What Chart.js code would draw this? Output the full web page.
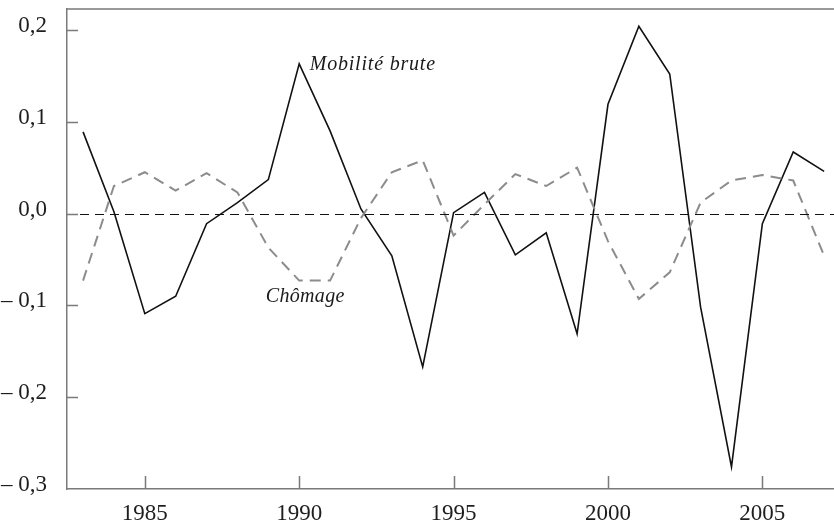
<!DOCTYPE html>
<html>
<head>
<meta charset="utf-8">
<script src="https://cdn.jsdelivr.net/npm/chart.js@4.4.1/dist/chart.umd.min.js"></script>
<style>
  html, body { margin: 0; padding: 0; background: #fff; }
  #wrap { width: 834px; height: 523px; }
</style>
</head>
<body>
<div id="wrap"><canvas id="chart"></canvas></div>
<script>
const years = [1983, 1984, 1985, 1986, 1987, 1988, 1989, 1990, 1991, 1992, 1993, 1994, 1995,
               1996, 1997, 1998, 1999, 2000, 2001, 2002, 2003, 2004, 2005, 2006, 2007];
const mobilite = [0.089, 0.002, -0.109, -0.090, -0.011, 0.012, 0.037, 0.163, 0.090, 0.005, -0.046, -0.167, 0.001,
                  0.023, -0.045, -0.021, -0.131, 0.119, 0.204, 0.152, -0.102, -0.276, -0.011, 0.067, 0.046];
const chomage = [-0.073, 0.030, 0.045, 0.025, 0.044, 0.023, -0.037, -0.073, -0.073, -0.005, 0.045, 0.058, -0.024,
                 0.010, 0.043, 0.030, 0.050, -0.030, -0.093, -0.064, 0.012, 0.036, 0.042, 0.036, -0.046];
const xTicks = [1985, 1990, 1995, 2000, 2005];
const yTicks = [-0.3, -0.2, -0.1, 0.0, 0.1, 0.2];

const serif = "'Liberation Serif', 'Times New Roman', serif";

function fmtY(v) {
    let s = Math.abs(v).toFixed(1).replace(".", ",");
    return v < -1e-9 ? "\u2013 " + s : s;
}

// frame top, inner tick marks, zero line and series labels
const decor = {
    id: "decor",
    afterDraw(c) {
        const ctx = c.ctx, a = c.chartArea;
        const x = c.scales.x, y = c.scales.y;
        ctx.save();
        ctx.strokeStyle = "#7a7a7a";
        ctx.lineWidth = 1.5;
        ctx.beginPath();
        ctx.moveTo(a.left, a.top);
        ctx.lineTo(a.right, a.top);
        yTicks.forEach(v => {
            if (v <= -0.3) return;
            const py = Math.round(y.getPixelForValue(v)) + 0.5;
            ctx.moveTo(a.left, py);
            ctx.lineTo(a.left + 11, py);
        });
        xTicks.forEach(v => {
            const px = Math.round(x.getPixelForValue(v)) + 0.5;
            ctx.moveTo(px, a.bottom);
            ctx.lineTo(px, a.bottom - 13);
        });
        ctx.stroke();

        // zero reference
        const zy = Math.round(y.getPixelForValue(0)) + 0.5;
        ctx.strokeStyle = "#111";
        ctx.lineWidth = 1;
        ctx.setLineDash([9, 6]);
        ctx.beginPath();
        ctx.moveTo(a.left + 13, zy);
        ctx.lineTo(a.right, zy);
        ctx.stroke();
        ctx.setLineDash([]);

        ctx.fillStyle = "#1a1a1a";
        ctx.font = "italic 20px " + serif;
        ctx.textBaseline = "alphabetic";
        ctx.letterSpacing = "0.8px";
        ctx.fillText("Mobilité brute", x.getPixelForValue(1990.34), y.getPixelForValue(0.156));
        ctx.letterSpacing = "0.3px";
        ctx.fillText("Chômage", x.getPixelForValue(1988.92), y.getPixelForValue(-0.0965));
        ctx.restore();
    }
};

new Chart(document.getElementById("chart"), {
    type: "line",
    data: {
        datasets: [
            {
                label: "Chômage",
                data: years.map((yr, i) => ({x: yr, y: chomage[i]})),
                borderColor: "#8c8c8c",
                borderWidth: 2,
                borderDash: [11, 7],
                pointRadius: 0,
                tension: 0,
                fill: false
            },
            {
                label: "Mobilité brute",
                data: years.map((yr, i) => ({x: yr, y: mobilite[i]})),
                borderColor: "#111111",
                borderWidth: 1.6,
                pointRadius: 0,
                tension: 0,
                fill: false
            }
        ]
    },
    options: {
        responsive: true,
        maintainAspectRatio: false,
        animation: false,
        layout: { padding: { top: 9, right: 0, left: 0, bottom: 0 } },
        plugins: { legend: { display: false }, tooltip: { enabled: false } },
        scales: {
            x: {
                type: "linear",
                min: 1982.48,
                max: 2007.32,
                afterBuildTicks: s => { s.ticks = xTicks.map(v => ({value: v})); },
                afterFit: s => { s.height = 34; s.paddingLeft = 0; s.paddingRight = 0; },
                grid: { display: false },
                border: { display: true, color: "#7a7a7a", width: 1.5 },
                ticks: {
                    font: { family: serif, size: 23 },
                    color: "#1e1e1e",
                    padding: 3,
                    maxRotation: 0,
                    callback: v => String(v)
                }
            },
            y: {
                type: "linear",
                min: -0.3,
                max: 0.2228,
                afterBuildTicks: s => { s.ticks = yTicks.map(v => ({value: v})); },
                afterFit: s => { s.width = 67; s.paddingTop = 0; s.paddingBottom = 0; },
                grid: { display: false },
                border: { display: true, color: "#7a7a7a", width: 1.5 },
                ticks: {
                    font: { family: serif, size: 23 },
                    color: "#1e1e1e",
                    padding: 12,
                    labelOffset: -4,
                    callback: v => fmtY(v)
                }
            }
        }
    },
    plugins: [decor]
});
</script>
</body>
</html>
